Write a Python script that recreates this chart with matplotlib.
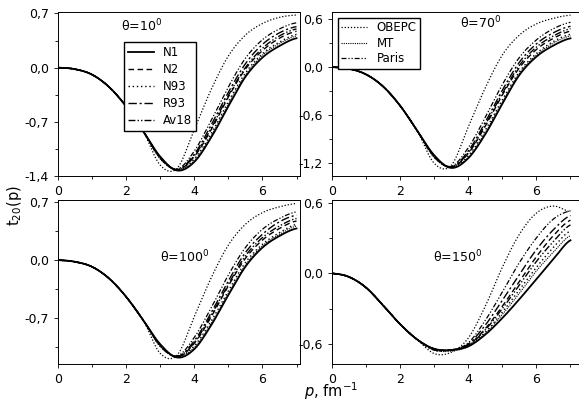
import numpy as np
import matplotlib.pyplot as plt

# p grid: shared head (p = 0..2.5) and per-model tail (p = 3.0..7.0)
p_head = [0.0, 0.5, 1.0, 1.5, 2.0, 2.5]
p_tail = [3.0, 3.5, 4.0, 4.5, 5.0, 5.5, 6.0, 6.5, 7.0]

models = ['N1', 'N2', 'N93', 'R93', 'Av18', 'OBEPC', 'MT', 'Paris']
styles = {
    'N1': dict(ls='-', lw=1.3),
    'N2': dict(ls=(0, (4, 2.5)), lw=1.0),
    'N93': dict(ls=(0, (1, 2)), lw=1.0),
    'R93': dict(ls=(0, (6, 2, 1.5, 2)), lw=1.0),
    'Av18': dict(ls=(0, (5, 1.5, 1, 1.5, 1, 1.5)), lw=1.0),
    'OBEPC': dict(ls=(0, (1, 1.5)), lw=0.9),
    'MT': dict(ls=(0, (1, 1)), lw=0.8),
    'Paris': dict(ls=(0, (4, 1.5, 1, 1.5, 1, 1.5)), lw=0.9),
}

head_10 = [0.0, -0.02, -0.09, -0.25, -0.50, -0.82]
tail_10 = {
    'N1':    [-1.15, -1.33, -1.22, -0.90, -0.50, -0.12, 0.13, 0.28, 0.38],
    'N2':    [-1.16, -1.32, -1.15, -0.80, -0.38, -0.02, 0.22, 0.38, 0.47],
    'N93':   [-1.17, -1.32, -1.18, -0.85, -0.44, -0.07, 0.18, 0.33, 0.43],
    'R93':   [-1.16, -1.32, -1.12, -0.74, -0.32, 0.05, 0.30, 0.45, 0.53],
    'Av18':  [-1.17, -1.32, -1.14, -0.78, -0.36, 0.00, 0.25, 0.41, 0.50],
    'OBEPC': [-1.26, -1.30, -0.80, -0.28, 0.15, 0.42, 0.57, 0.65, 0.68],
    'MT':    [-1.18, -1.32, -1.20, -0.88, -0.47, -0.10, 0.16, 0.31, 0.41],
    'Paris': [-1.16, -1.31, -1.08, -0.68, -0.25, 0.12, 0.36, 0.50, 0.58],
}

head_70 = [0.0, -0.02, -0.09, -0.24, -0.48, -0.79]
tail_70 = {
    'N1':    [-1.10, -1.26, -1.14, -0.84, -0.46, -0.10, 0.13, 0.27, 0.36],
    'N2':    [-1.11, -1.25, -1.08, -0.74, -0.35, -0.01, 0.22, 0.36, 0.45],
    'N93':   [-1.12, -1.25, -1.11, -0.79, -0.41, -0.06, 0.17, 0.32, 0.41],
    'R93':   [-1.11, -1.25, -1.05, -0.69, -0.29, 0.06, 0.29, 0.43, 0.51],
    'Av18':  [-1.12, -1.25, -1.07, -0.72, -0.33, 0.02, 0.25, 0.39, 0.48],
    'OBEPC': [-1.20, -1.23, -0.75, -0.26, 0.15, 0.40, 0.54, 0.61, 0.65],
    'MT':    [-1.13, -1.25, -1.13, -0.82, -0.44, -0.08, 0.15, 0.30, 0.39],
    'Paris': [-1.11, -1.24, -1.01, -0.63, -0.22, 0.12, 0.34, 0.48, 0.56],
}

head_100 = [0.0, -0.02, -0.08, -0.22, -0.44, -0.72]
tail_100 = {
    'N1':    [-1.01, -1.17, -1.07, -0.78, -0.42, -0.08, 0.15, 0.29, 0.38],
    'N2':    [-1.02, -1.16, -1.00, -0.68, -0.31, 0.02, 0.24, 0.38, 0.47],
    'N93':   [-1.03, -1.16, -1.03, -0.73, -0.37, -0.03, 0.19, 0.33, 0.43],
    'R93':   [-1.02, -1.16, -0.97, -0.63, -0.25, 0.09, 0.31, 0.46, 0.54],
    'Av18':  [-1.03, -1.16, -0.99, -0.66, -0.29, 0.05, 0.27, 0.41, 0.50],
    'OBEPC': [-1.12, -1.14, -0.68, -0.21, 0.18, 0.43, 0.57, 0.64, 0.68],
    'MT':    [-1.04, -1.16, -1.05, -0.76, -0.40, -0.06, 0.17, 0.31, 0.41],
    'Paris': [-1.02, -1.15, -0.93, -0.57, -0.18, 0.15, 0.37, 0.50, 0.58],
}

head_150 = [0.0, -0.03, -0.12, -0.27, -0.43, -0.56]
tail_150 = {
    'N1':    [-0.64, -0.65, -0.62, -0.52, -0.38, -0.22, -0.05, 0.12, 0.28],
    'N2':    [-0.64, -0.65, -0.61, -0.47, -0.28, -0.07, 0.14, 0.32, 0.45],
    'N93':   [-0.65, -0.65, -0.61, -0.50, -0.33, -0.14, 0.05, 0.22, 0.36],
    'R93':   [-0.64, -0.65, -0.60, -0.44, -0.23, -0.01, 0.20, 0.37, 0.49],
    'Av18':  [-0.65, -0.65, -0.61, -0.48, -0.30, -0.10, 0.10, 0.27, 0.41],
    'OBEPC': [-0.68, -0.67, -0.55, -0.28, 0.05, 0.33, 0.51, 0.57, 0.52],
    'MT':    [-0.65, -0.66, -0.62, -0.51, -0.35, -0.17, 0.02, 0.18, 0.32],
    'Paris': [-0.64, -0.65, -0.59, -0.40, -0.16, 0.09, 0.30, 0.46, 0.53],
}

panels = [
    ('θ=10$^0$', head_10, tail_10, (-1.4, 0.72), [-1.4, -0.7, 0.0, 0.7], (0.26, 0.88)),
    ('θ=70$^0$', head_70, tail_70, (-1.36, 0.69), [-1.2, -0.6, 0.0, 0.6], (0.52, 0.90)),
    ('θ=100$^0$', head_100, tail_100, (-1.25, 0.72), [-0.7, 0.0, 0.7], (0.42, 0.62)),
    ('θ=150$^0$', head_150, tail_150, (-0.77, 0.62), [-0.6, 0.0, 0.6], (0.41, 0.62)),
]
positions = [
    [0.100, 0.572, 0.418, 0.399],
    [0.573, 0.572, 0.427, 0.399],
    [0.100, 0.114, 0.418, 0.399],
    [0.573, 0.114, 0.427, 0.399],
]
xmax = [7.1, 7.25, 7.1, 7.25]


def smooth(x, y):
    # Catmull-Rom through the read points
    x = np.asarray(x); y = np.asarray(y)
    xs, ys = [], []
    for i in range(len(x) - 1):
        p0 = y[max(i - 1, 0)]; p1 = y[i]; p2 = y[i + 1]; p3 = y[min(i + 2, len(y) - 1)]
        t = np.linspace(0, 1, 20, endpoint=False)
        seg = 0.5 * (2 * p1 + (-p0 + p2) * t + (2 * p0 - 5 * p1 + 4 * p2 - p3) * t**2
                     + (-p0 + 3 * p1 - 3 * p2 + p3) * t**3)
        xs.append(x[i] + (x[i + 1] - x[i]) * t); ys.append(seg)
    xs.append([x[-1]]); ys.append([y[-1]])
    return np.concatenate(xs), np.concatenate(ys)


fig = plt.figure(figsize=(5.79, 4.11), dpi=100)
for k, (title, head, tails, ylim, yticks, tpos) in enumerate(panels):
    ax = fig.add_axes(positions[k])
    for m in models:
        xx, yy = smooth(p_head + p_tail, head + tails[m])
        ax.plot(xx, yy, color='black', label=m, **styles[m])
    ax.set_xlim(0, xmax[k])
    ax.set_ylim(*ylim)
    ax.set_xticks([0, 2, 4, 6])
    ax.set_xticks([1, 3, 5, 7], minor=True)
    ax.set_yticks(yticks)
    ax.set_yticklabels([f'{v:.1f}'.replace('.', ',') for v in yticks])
    ax.yaxis.set_minor_locator(plt.MultipleLocator((yticks[1] - yticks[0]) / 2))
    ax.tick_params(labelsize=9, length=3, width=0.6)
    ax.tick_params(which='minor', length=2, width=0.6)
    for s in ax.spines.values():
        s.set_linewidth(0.7)
    ax.text(tpos[0], tpos[1], title, transform=ax.transAxes, fontsize=9)
    if k == 0:
        h, l = ax.get_legend_handles_labels()
        ax.legend(h[:5], l[:5], loc='upper left', bbox_to_anchor=(0.25, 0.85),
                  fontsize=8.5, fancybox=False, edgecolor='black', framealpha=1,
                  handlelength=2.2, borderpad=0.3, labelspacing=0.35)
    if k == 1:
        h, l = ax.get_legend_handles_labels()
        ax.legend(h[5:], l[5:], loc='upper left', bbox_to_anchor=(0.0, 1.0),
                  fontsize=8.5, fancybox=False, edgecolor='black', framealpha=1,
                  handlelength=2.2, borderpad=0.3, labelspacing=0.2)

fig.text(0.008, 0.50, 't$_{20}$(p)', rotation=90, fontsize=10.5, va='center')
fig.text(0.525, 0.035, '$p$, fm$^{-1}$', fontsize=10.5)
fig.savefig('out.png', dpi=100)
